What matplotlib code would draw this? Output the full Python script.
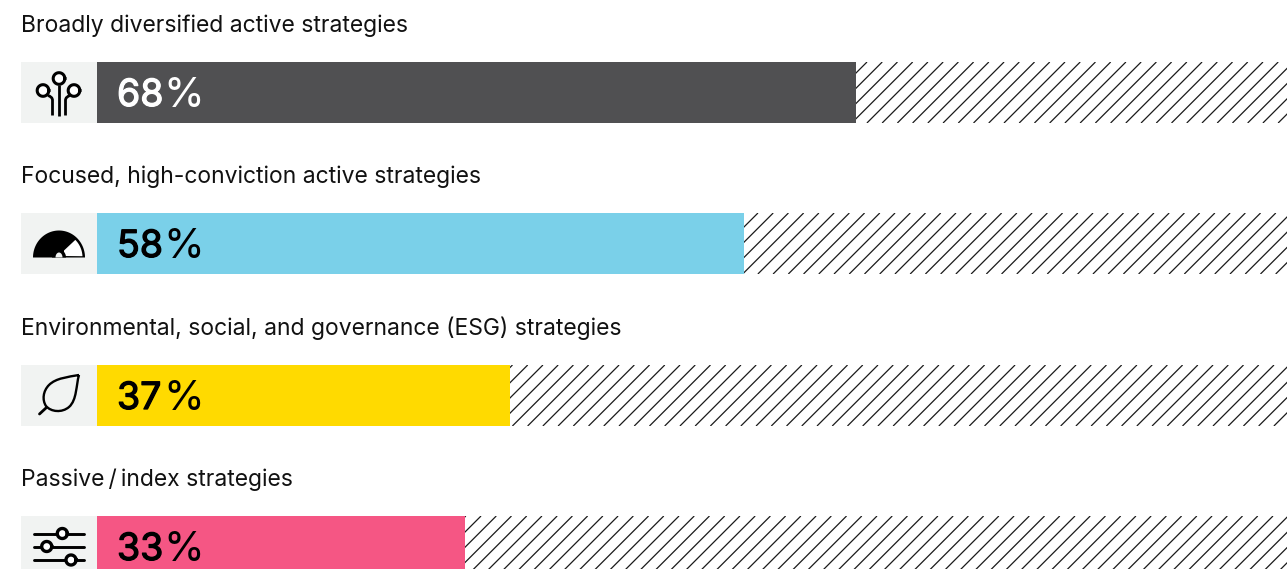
#!/usr/bin/env python3
import numpy as np
import matplotlib
matplotlib.use('Agg')
import matplotlib.pyplot as plt
import matplotlib.patheffects as pe
from matplotlib.patches import Rectangle, PathPatch
from matplotlib.path import Path

labels = ['Broadly diversified active strategies',
          'Focused, high-conviction active strategies',
          'Environmental, social, and governance (ESG) strategies',
          'Passive\u2009/\u2009index strategies']
values = [68, 58, 37, 33]
bar_colors = ['#505052', '#7ad0e9', '#ffda00', '#f55684']
value_colors = ['#ffffff', '#000000', '#000000', '#000000']

W, H = 1287, 569
X0 = 96.8          # pixel where value 0 sits
PX_PER_PCT = 11.16
bar_tops = [62, 213, 365, 516]
BAR_H = 61
label_y = [26, 177, 328, 480]
# hatch phase (x + y of a hatch line, pixels) per row
hatch_phase = [929, 940.5, 938.4, 936.1]
HATCH_STEP = 15.23
ICON_BG = '#f1f3f2'

plt.rcParams['font.family'] = ['Inter', 'DejaVu Sans']

fig = plt.figure(figsize=(W / 100, H / 100), dpi=100)
ax = fig.add_axes([0, 0, 1, 1])
ax.set_xlim(-X0 / PX_PER_PCT, (W - X0) / PX_PER_PCT)
ax.set_ylim(H, 0)
ax.axis('off')


def px(x):
    return (np.asarray(x, dtype=float) - X0) / PX_PER_PCT


def draw_hatch(top, start, phase):
    clip = Rectangle((px(start), top), px(W) - px(start), BAR_H, fill=False, edgecolor='none')
    ax.add_patch(clip)
    k0 = int((start + top - phase) / HATCH_STEP) - 2
    k1 = int((W + top + BAR_H - phase) / HATCH_STEP) + 2
    for k in range(k0, k1):
        c = phase + k * HATCH_STEP
        ln, = ax.plot([px(c - top - BAR_H), px(c - top)], [top + BAR_H, top],
                      color='#1a1a1a', lw=0.9, solid_capstyle='butt')
        ln.set_clip_path(clip)


def draw_circle(x, y, r, lw=2.2, face=None):
    t = np.linspace(0, 2 * np.pi, 60)
    if face:
        ax.fill(px(x + r * np.cos(t)), y + r * np.sin(t), color=face, lw=0, zorder=5)
    ax.plot(px(x + r * np.cos(t)), y + r * np.sin(t), color='k', lw=lw, zorder=6)


def bezier(points, lw, face='none'):
    codes = [Path.MOVETO] + [Path.CURVE4] * (len(points) - 1)
    p = Path([(px(x), y) for x, y in points], codes)
    ax.add_patch(PathPatch(p, facecolor=face, edgecolor='k', lw=lw, capstyle='butt'))


def icon_nodes(cy):
    ax.plot([px(59), px(59)], [cy - 8, cy + 23], color='k', lw=2.0, solid_capstyle='butt')
    bezier([(52.5, cy + 23), (52.5, cy + 16), (52.5, cy + 10), (52.5, cy + 8),
            (52.5, cy + 5), (50.5, cy + 4), (48, cy + 3)], 2.0)
    bezier([(65.5, cy + 23), (65.5, cy + 16), (65.5, cy + 10), (65.5, cy + 8),
            (65.5, cy + 5), (67.5, cy + 4), (70, cy + 3)], 2.0)
    draw_circle(43, cy - 2, 5.8, face='#ffffff')
    draw_circle(59, cy - 14, 5.8, face='#ffffff')
    draw_circle(74, cy - 2, 5.8, face='#ffffff')


def icon_gauge(cy):
    cx, base = 59, cy + 14
    t = np.linspace(np.pi, 0, 60)
    ax.fill(px(cx + 26 * np.cos(t)), base - 27 * np.sin(t), color='k', lw=0)
    # white slice on the right
    a = np.linspace(np.radians(46), np.radians(3), 20)
    xs = np.r_[cx + 5, cx + 23.5 * np.cos(a), cx + 5]
    ys = np.r_[base - 7, base - 24.5 * np.sin(a), base - 1.5]
    ax.fill(px(xs), ys, color='white', lw=0)
    t2 = np.linspace(np.pi, 0, 30)
    ax.fill(px(cx + 7 * np.cos(t2)), base - 8 * np.sin(t2), color='k', lw=0)
    ax.fill(px(cx + 3.5 * np.cos(t2)), base - 5 * np.sin(t2), color=ICON_BG, lw=0)


def icon_leaf(cy):
    bezier([(79, cy - 20.5), (68, cy - 18.5), (56, cy - 17.5), (49, cy - 10.5),
            (43, cy - 4.5), (42, cy + 4.5), (46, cy + 10.5),
            (51, cy + 16.5), (62, cy + 17.5), (69, cy + 11.5),
            (77, cy + 4.5), (76, cy - 10.5), (79, cy - 20.5)], 1.7)
    ax.plot([px(39.5), px(46.5)], [cy + 18.5, cy + 12], color='k', lw=2.0, solid_capstyle='round')


def icon_sliders(cy):
    for dy, kx in [(-13, 62.3), (0, 46.7), (13.5, 71)]:
        ax.plot([px(33.7), px(83.5)], [cy + dy, cy + dy], color='k', lw=2.1, solid_capstyle='round')
        draw_circle(kx, cy + dy, 5, lw=2.4, face='#ffffff')


icons = [icon_nodes, icon_gauge, icon_leaf, icon_sliders]

for i, (lab, val) in enumerate(zip(labels, values)):
    top = bar_tops[i]
    ax.text(px(21), label_y[i], lab, fontsize=16.5, color='#111111', va='center', ha='left')
    ax.add_patch(Rectangle((px(21), top), px(X0) - px(21), BAR_H, facecolor=ICON_BG, edgecolor='none'))
    ax.barh(top + BAR_H / 2, val, height=BAR_H, left=0, color=bar_colors[i], linewidth=0)
    draw_hatch(top, X0 + val * PX_PER_PCT, hatch_phase[i])
    num = ax.text(px(117), top + BAR_H / 2 + 3.5, f'{val}', fontsize=27, color=value_colors[i],
                  va='center', ha='left')
    num.set_path_effects([pe.withStroke(linewidth=0.9, foreground=value_colors[i])])
    ax.text(px(163), top + BAR_H / 2 + 3.5, '%', fontsize=30, color=value_colors[i],
            va='center', ha='left')
    icons[i](top + BAR_H / 2)

fig.savefig('out.png', dpi=100)
